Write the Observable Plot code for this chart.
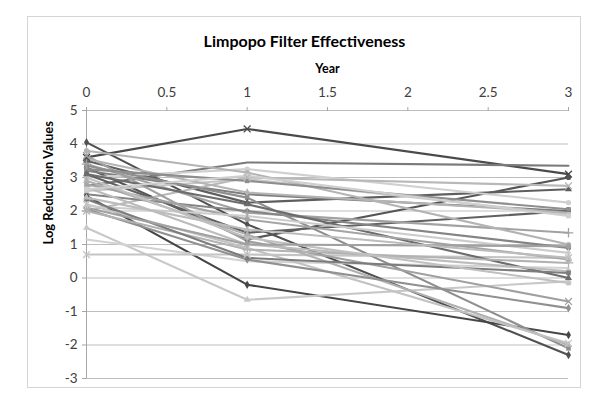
<!DOCTYPE html>
<html>
<head>
<meta charset="utf-8">
<script src="https://cdn.jsdelivr.net/npm/d3@7"></script>
<script src="https://cdn.jsdelivr.net/npm/@observablehq/plot@0.6"></script>
<style>
  body { margin: 0; background: #fff; }
  #wrap { position: relative; width: 602px; height: 402px; overflow: hidden; }
  #frame { position: absolute; left: 27px; top: 16px; width: 552px; height: 370px; border: 1px solid #d4d4d4; }
  #chart { position: absolute; left: 0; top: 0; }
</style>
</head>
<body>
<div id="wrap"><div id="frame"></div><div id="chart"></div></div>
<script>
const title = "Limpopo Filter Effectiveness";
const xLabel = "Year";
const yLabel = "Log Reduction Values";
const years = [0, 1, 3];
const xTicks = [0, 0.5, 1, 1.5, 2, 2.5, 3];
const yTicks = [-3, -2, -1, 0, 1, 2, 3, 4, 5];

// value of each filter at year 0, year 1 and year 3
const year0 = [3.6, 4.05, 2.75, 2.45, 1.5, 1.15, 0.7, 3.3, 3.5, 3.2, 3.0, 2.0, 3.1, 3.4, 2.6, 3.8, 2.5, 3.35, 2.9, 2.2, 3.65, 2.05, 3.1, 2.8, 2.7, 2.0, 2.15, 3.55, 2.35, 3.0, 2.1, 3.25, 2.65, 2.4];
const year1 = [4.45, 1.6, 3.45, -0.2, -0.65, 0.5, 0.7, 1.15, 2.25, 2.5, 3.25, 3.0, 1.35, 1.95, 2.95, 3.15, 2.0, 2.4, 1.3, 0.9, 1.1, 0.55, 2.2, 1.75, 1.0, 0.85, 1.85, 2.55, 0.6, 1.2, 1.0, 2.9, 3.05, 1.45];
const year3 = [3.1, -2.3, 3.35, -1.7, -0.1, 0.3, 0.6, 3.0, 2.65, 2.0, 2.25, 2.75, 2.0, 1.35, 1.9, 1.0, 0.9, -2.1, -2.0, -1.95, -0.7, -0.9, 0.0, 0.55, 0.2, 0.45, 0.75, 1.95, 0.15, -0.15, 0.95, 2.05, 1.85, 0.6];

// styles per series (kept apart from the values)
const shades = ["#4a4a4a", "#505050", "#7a7a7a", "#464646", "#c8c8c8", "#d2d2d2", "#c4c4c4", "#555555", "#5e5e5e", "#7e7e7e", "#d0d0d0", "#b8b8b8", "#606060", "#a2a2a2", "#c6c6c6", "#b3b3b3", "#848484", "#8e8e8e", "#b0b0b0", "#c2c2c2", "#a0a0a0", "#909090", "#6c6c6c", "#a4a4a4", "#bcbcbc", "#b2b2b2", "#cccccc", "#b4b4b4", "#7c7c7c", "#c0c0c0", "#a0a0a0", "#8e8e8e", "#cfcfcf", "#bcbcbc"];
const symbols = ["times", "diamond", "none", "diamond", "triangle", "none", "times", "circle", "triangle", "diamond", "circle", "times", "square", "plus", "square", "circle", "circle", "square", "triangle", "times", "times", "diamond", "triangle", "square", "circle", "plus", "diamond", "diamond", "square", "square", "circle", "square", "square", "triangle"];

const rows = [];
year0.forEach((_, i) => {
  [year0[i], year1[i], year3[i]].forEach((v, k) => rows.push({series: i, year: years[k], value: v}));
});

const fillSymbols = ["circle", "diamond", "square", "triangle"];
const strokeSymbols = ["times", "plus"];

const dotMarks = [];
fillSymbols.forEach(s => {
  dotMarks.push(Plot.dot(rows.filter(d => symbols[d.series] === s), {
    x: "year", y: "value", symbol: s, r: 2.6, fill: d => shades[d.series], stroke: "none"
  }));
});
strokeSymbols.forEach(s => {
  dotMarks.push(Plot.dot(rows.filter(d => symbols[d.series] === s), {
    x: "year", y: "value", symbol: s, r: 3.2, stroke: d => shades[d.series], strokeWidth: 1.3, fill: "none"
  }));
});

const chart = Plot.plot({
  width: 602,
  height: 402,
  marginLeft: 86,
  marginRight: 34,
  marginTop: 110,
  marginBottom: 24,
  style: {fontFamily: "Lato, 'Open Sans', sans-serif", fontSize: "13.5px", color: "#404040", background: "transparent"},
  color: {type: "identity"},
  x: {domain: [0, 3]},
  y: {domain: [-3, 5]},
  marks: [
    Plot.gridY(yTicks, {stroke: "#bdbdbd", strokeOpacity: 1, strokeWidth: 1}),
    Plot.ruleX([0], {stroke: "#a6a6a6", strokeWidth: 1}),
    Plot.axisX(xTicks, {anchor: "top", tickSize: 4, tickPadding: 10, stroke: "#a6a6a6", fill: "#404040", label: null, tickFormat: d => String(d)}),
    Plot.axisY(yTicks, {anchor: "left", tickSize: 4, tickPadding: 5, stroke: "#a6a6a6", fill: "#404040", label: null, tickFormat: d => String(d)}),
    Plot.line(rows, {x: "year", y: "value", z: "series", stroke: d => shades[d.series], strokeWidth: 2.1, strokeLinejoin: "round"}),
    ...dotMarks,
    Plot.text([title], {text: d => d, frameAnchor: "top", dx: -23, dy: -75, fontWeight: "bold", fontSize: 16, fill: "#000"}),
    Plot.text([xLabel], {text: d => d, frameAnchor: "top", dy: -46, fontWeight: "bold", fontSize: 12.5, fill: "#000"}),
    Plot.text([yLabel], {text: d => d, frameAnchor: "left", dx: -38, rotate: -90, fontWeight: "bold", fontSize: 13, fill: "#000"})
  ]
});
document.getElementById("chart").appendChild(chart);
</script>
</body>
</html>
